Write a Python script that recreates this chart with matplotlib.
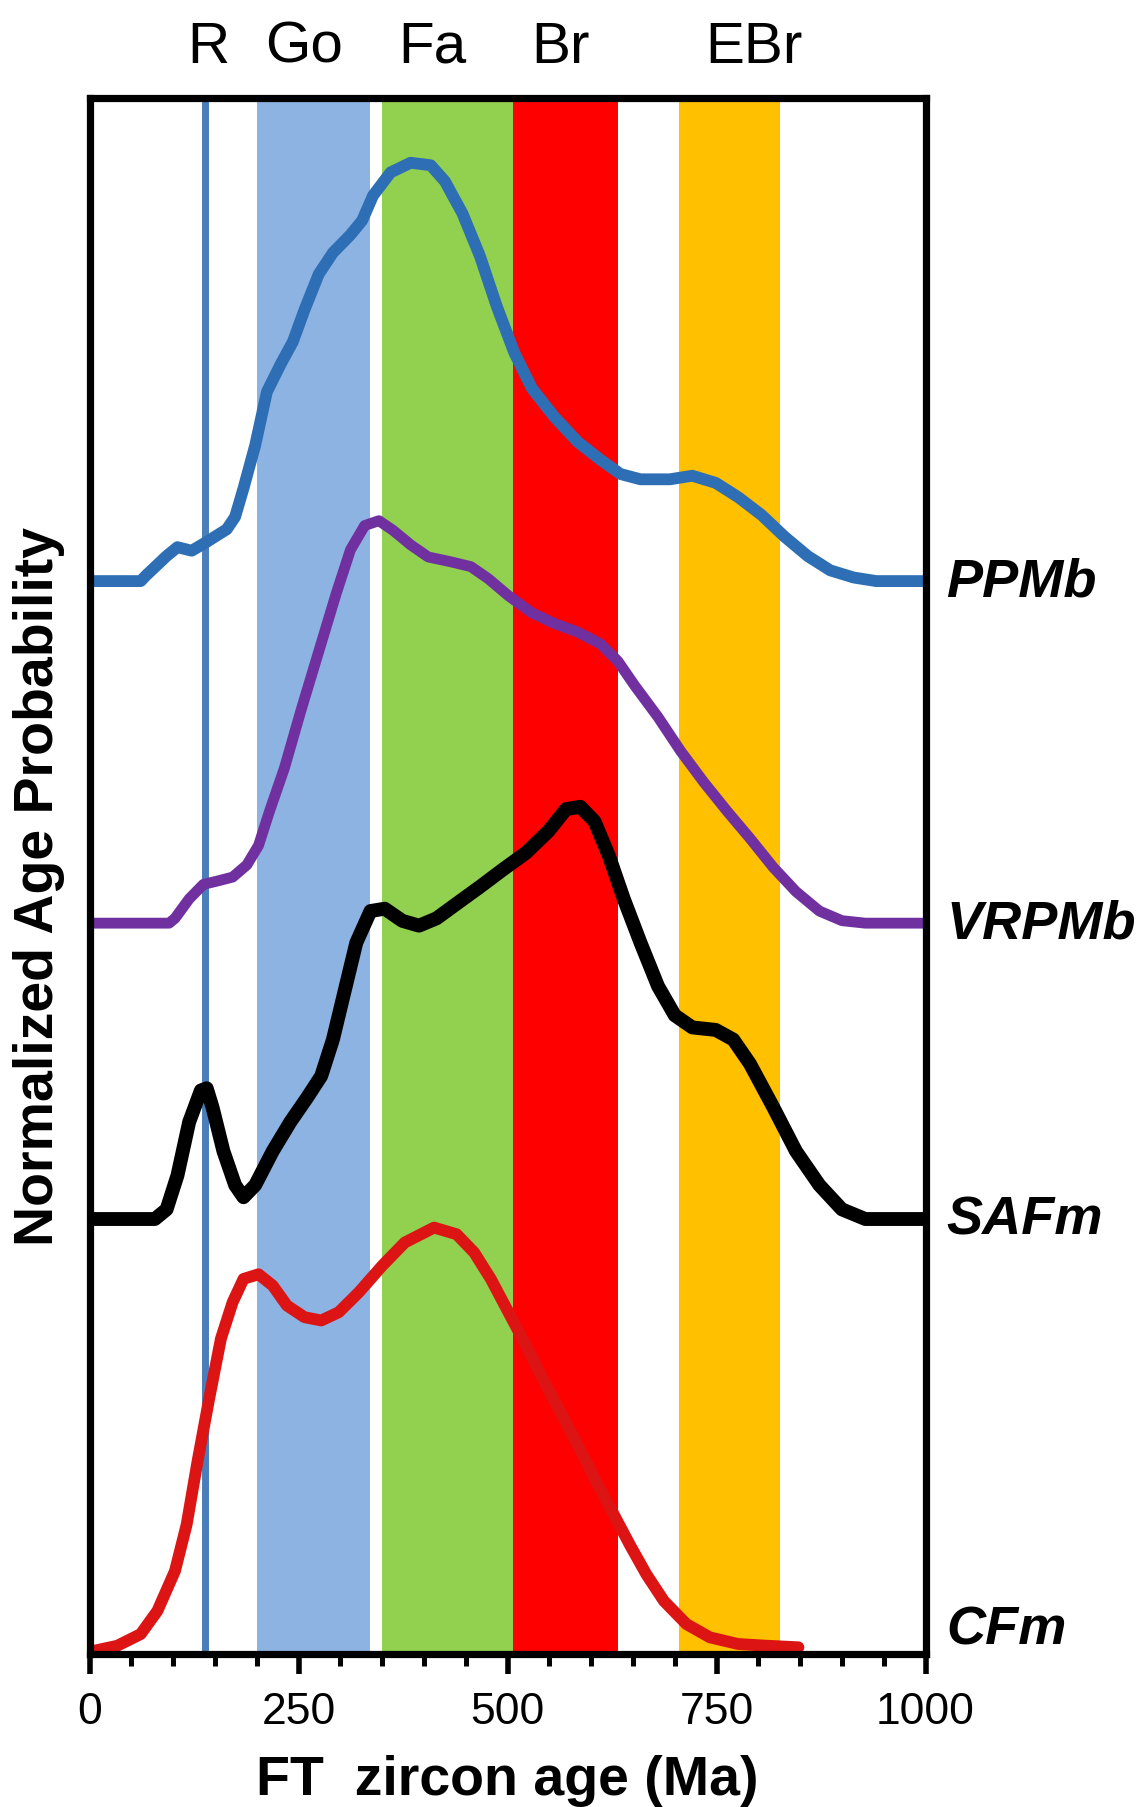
import matplotlib
matplotlib.use("Agg")
import matplotlib.pyplot as plt
from matplotlib.ticker import MultipleLocator

plt.rcParams['font.family'] = ['Liberation Sans', 'DejaVu Sans']

# ---- data (ages in Ma, heights = normalized probability above each curve's baseline) ----
ppmb_x = [2, 61, 67, 92, 105, 122, 140, 164, 174, 184, 198, 212, 229, 243, 257, 274, 291, 312,
          326, 339, 360, 384, 408, 425, 446, 467, 487, 508, 529, 556, 584, 611, 635, 659, 694,
          721, 749, 776, 804, 831, 859, 886, 914, 941, 1000]
ppmb_y = [0, 0, 0.34, 1.61, 2.18, 1.95, 2.52, 3.33, 4.13, 5.96, 8.72, 12.16, 13.99, 15.37, 17.43,
          19.72, 21.1, 22.25, 23.17, 24.77, 26.26, 26.88, 26.72, 25.69, 23.62, 20.87, 17.66, 14.68,
          12.39, 10.55, 8.94, 7.8, 6.88, 6.54, 6.54, 6.77, 6.31, 5.39, 4.24, 2.87, 1.61, 0.69, 0.23,
          0, 0]

vrpmb_x = [2, 95, 102, 119, 136, 153, 171, 188, 202, 215, 233, 253, 274, 295, 312, 329, 346, 363,
           384, 405, 432, 456, 477, 501, 529, 556, 584, 611, 632, 652, 680, 707, 735, 763, 790,
           818, 845, 873, 900, 928, 1000]
vrpmb_y = [0, 0, 0.31, 1.56, 2.49, 2.71, 2.96, 3.74, 4.99, 7.17, 9.97, 13.71, 17.45, 21.19, 23.99,
           25.55, 25.86, 25.24, 24.31, 23.53, 23.22, 22.91, 22.13, 21.04, 19.94, 19.26, 18.7, 17.95,
           16.83, 15.27, 13.24, 11.06, 9.04, 7.17, 5.45, 3.58, 2.03, 0.78, 0.16, 0, 0]

safm_x = [2, 78, 92, 105, 119, 133, 140, 147, 160, 174, 184, 198, 219, 240, 260, 277, 291, 305,
          319, 336, 353, 374, 394, 415, 439, 467, 494, 522, 549, 570, 587, 604, 621, 639, 659, 680,
          700, 721, 749, 770, 790, 818, 845, 873, 900, 928, 1000]
safm_y = [0, 0, 0.62, 2.8, 6.23, 8.26, 8.4, 7.17, 4.36, 2.18, 1.4, 2.18, 4.36, 6.23, 7.79, 9.19,
          11.53, 14.65, 17.76, 19.79, 19.94, 19.16, 18.85, 19.32, 20.26, 21.35, 22.44, 23.53,
          24.93, 26.34, 26.49, 25.55, 23.37, 20.57, 17.76, 14.96, 13.09, 12.31, 12.15, 11.53, 9.97,
          7.17, 4.36, 2.18, 0.62, 0, 0]

cfm_x = [2, 33, 61, 81, 102, 116, 129, 143, 157, 171, 184, 202, 219, 236, 257, 277, 298, 322,
         350, 377, 412, 439, 460, 480, 501, 522, 542, 563, 584, 604, 625, 646, 666, 687, 714, 742,
         776, 811, 848]
cfm_y = [0.17, 0.53, 1.28, 2.77, 5.33, 8.32, 12.37, 16.42, 20.26, 22.6, 24.1, 24.4, 23.67, 22.39,
         21.64, 21.43, 21.96, 23.24, 24.95, 26.44, 27.4, 26.97, 25.8, 24.09, 21.96, 19.83, 17.7,
         15.57, 13.43, 11.3, 9.17, 7.04, 5.12, 3.41, 1.92, 1.07, 0.64, 0.53, 0.43]

sample_names = ["PPMb", "VRPMb", "SAFm", "CFm"]

band_labels = ["Go", "Fa", "Br", "EBr"]
band_start = [200, 350, 507, 705]
band_end = [335, 507, 632, 826]
r_line_age = 138
period_labels = ["R", "Go", "Fa", "Br", "EBr"]
period_label_x = [142, 257, 410, 563, 795]

xticks = [0, 250, 500, 750, 1000]

# ---- styling / layout ----
offsets = [68.94, 46.96, 27.95, 0.0]
label_y = [68.94, 46.96, 27.95, 1.6]
curve_colors = ["#2E6EB5", "#7030A0", "#000000", "#DC1414"]
curve_lw = [8.5, 7.8, 10.0, 8.5]
band_colors = ["#8DB3E2", "#92D050", "#FF0000", "#FFC000"]

L, R, B, T = 89.7 / 1145, 925.5 / 1145, (1808 - 1655) / 1808, (1808 - 98.7) / 1808

fig = plt.figure(figsize=(11.45, 18.08), dpi=100)
ax = fig.add_axes([L, B, R - L, T - B])

for s, e, c in zip(band_start, band_end, band_colors):
    ax.axvspan(s, e, color=c, lw=0, zorder=1)
ax.axvline(r_line_age, color="#4A7EBB", lw=5.0, zorder=2)

series = [(ppmb_x, ppmb_y), (vrpmb_x, vrpmb_y), (safm_x, safm_y), (cfm_x, cfm_y)]
for (xs, ys), off, col, lw in zip(series, offsets, curve_colors, curve_lw):
    ax.plot(xs, [v + off for v in ys], color=col, lw=lw, zorder=3,
            solid_joinstyle='round', solid_capstyle='round')

ax.set_xlim(0, 1000)
ax.set_ylim(0, 100)
ax.set_xticks(xticks)
ax.set_xticklabels([str(t) for t in xticks])
ax.xaxis.set_minor_locator(MultipleLocator(50))
ax.tick_params(axis='x', which='major', direction='out', length=14.4, width=4.0,
               labelsize=32, pad=12)
ax.tick_params(axis='x', which='minor', direction='out', length=8.4, width=3.6)
ax.set_yticks([])
for sp in ax.spines.values():
    sp.set_linewidth(5.2)
    sp.set_zorder(5)

ax.set_xlabel("FT  zircon age (Ma)", fontsize=40, fontweight='bold', labelpad=16)
ax.set_ylabel("Normalized Age Probability", fontsize=40, fontweight='bold')
ax.yaxis.set_label_coords(-0.03, 0.494)

for name, ly in zip(sample_names, label_y):
    ax.text(1.025, ly, name, transform=ax.get_yaxis_transform(), fontsize=39,
            fontweight='bold', fontstyle='italic', va='center', ha='left')

for lab, lx in zip(period_labels, period_label_x):
    ax.text(lx, 102.3, lab, fontsize=42, ha='center', va='baseline', clip_on=False)

fig.savefig("out.png", dpi=100)
